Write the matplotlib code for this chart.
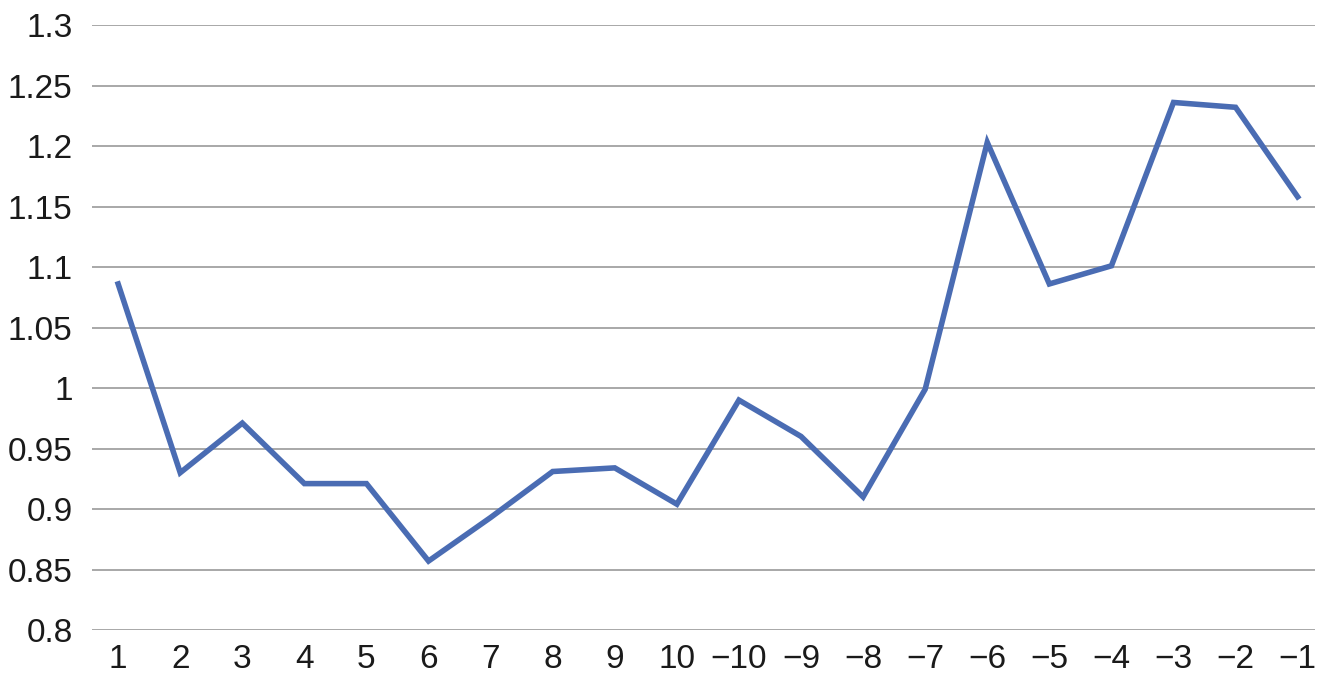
import matplotlib
matplotlib.use("Agg")
import matplotlib.pyplot as plt

# Data
categories = ["1", "2", "3", "4", "5", "6", "7", "8", "9", "10",
              "\u221210", "\u22129", "\u22128", "\u22127", "\u22126",
              "\u22125", "\u22124", "\u22123", "\u22122", "\u22121"]
values = [1.086, 0.930, 0.971, 0.921, 0.921, 0.857, 0.893, 0.931, 0.934, 0.904,
          0.990, 0.960, 0.910, 0.999, 1.203, 1.086, 1.101, 1.236, 1.232, 1.158]
y_ticks = [0.8, 0.85, 0.9, 0.95, 1.0, 1.05, 1.1, 1.15, 1.2, 1.25, 1.3]
y_labels = ["0.8", "0.85", "0.9", "0.95", "1", "1.05", "1.1", "1.15", "1.2", "1.25", "1.3"]

plt.rcParams["font.family"] = ["Liberation Sans", "DejaVu Sans"]

fig = plt.figure(figsize=(13.19, 6.95), dpi=100)
ax = fig.add_axes([0.0698, 0.0935, 0.9272, 0.8705])

x = list(range(len(categories)))
ax.plot(x, values, color="#4a6cb3", linewidth=4.0, solid_joinstyle="miter", zorder=3)

ax.set_ylim(0.8, 1.3)
ax.set_xlim(-0.42, 19.28)
ax.set_yticks(y_ticks)
ax.set_yticklabels(y_labels)
ax.set_xticks(x)
ax.set_xticklabels(categories)

ax.yaxis.grid(True, color="#a8a8a8", linewidth=1.4)
ax.set_axisbelow(True)
for s in ax.spines.values():
    s.set_visible(False)
ax.tick_params(axis="both", length=0, labelsize=24, colors="#1a1a1a")
ax.tick_params(axis="y", pad=14)
ax.tick_params(axis="x", pad=10)

fig.savefig("out.png", dpi=100)
